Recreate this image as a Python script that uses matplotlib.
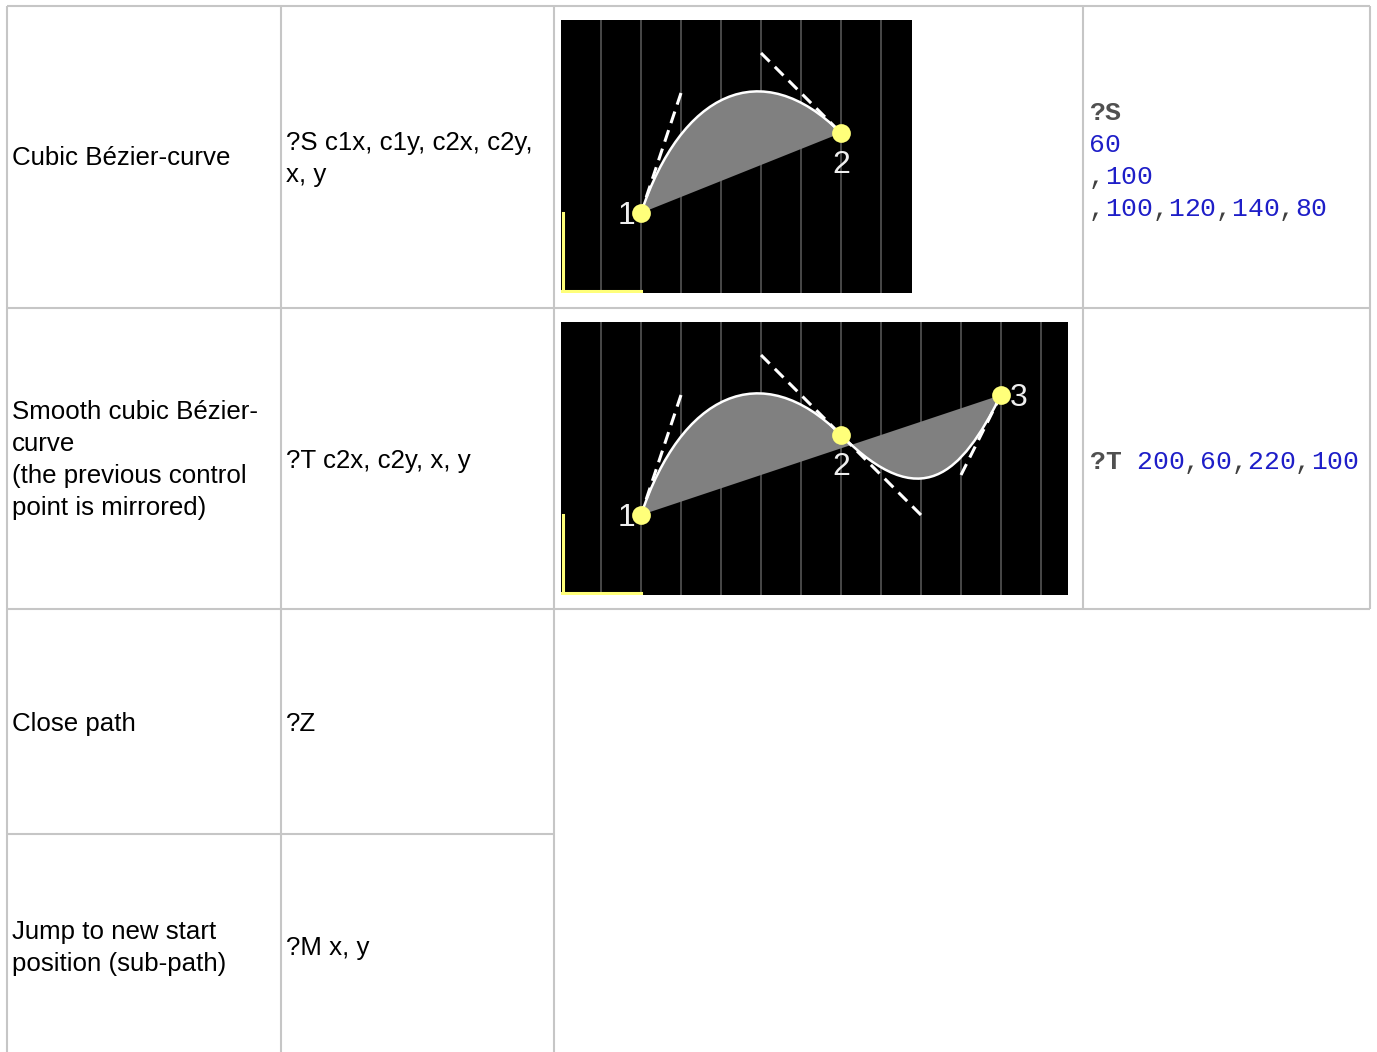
import matplotlib
matplotlib.use('Agg')
import matplotlib.pyplot as plt
from matplotlib.path import Path
from matplotlib.patches import PathPatch

W, H = 1377, 1052

# Table content
row_labels = [
    ["Cubic Bézier-curve"],
    ["Smooth cubic Bézier-", "curve", "(the previous control", "point is mirrored)"],
    ["Close path"],
    ["Jump to new start", "position (sub-path)"],
]
row_syntax = [
    ["?S c1x, c1y, c2x, c2y,", "x, y"],
    ["?T c2x, c2y, x, y"],
    ["?Z"],
    ["?M x, y"],
]

# Example path values (same units as the code column)
start_pt = (40, 40)
s_args = [60, 100, 100, 120, 140, 80]   # c1x, c1y, c2x, c2y, x, y
t_args = [200, 60, 220, 100]            # c2x, c2y, x, y
grid_step = 20

# Code column text, split into (text, kind) runs per line
s_code_lines = [
    [("?S", "cmd")],
    [("60", "num")],
    [(",", "sep"), ("100", "num")],
    [(",", "sep"), ("100", "num"), (",", "sep"), ("120", "num"), (",", "sep"),
     ("140", "num"), (",", "sep"), ("80", "num")],
]
t_code_lines = [
    [("?T", "cmd"), (" ", "sep"), ("200", "num"), (",", "sep"), ("60", "num"),
     (",", "sep"), ("220", "num"), (",", "sep"), ("100", "num")],
]

BORDER = '#c6c6c6'
YELLOW = '#ffff7a'
code_style = {
    "cmd": dict(color='#505050', weight='bold'),
    "num": dict(color='#1e1ec8', weight='normal'),
    "sep": dict(color='#404040', weight='normal'),
}

fig = plt.figure(figsize=(W / 100, H / 100), dpi=100)
fig.patch.set_facecolor('white')

# background axes in pixel coordinates for the table
bg = fig.add_axes([0, 0, 1, 1])
bg.set_xlim(0, W)
bg.set_ylim(H, 0)
bg.axis('off')

hlines = [(6, 7, 1370), (308, 7, 1370), (609, 7, 1370), (834, 7, 554)]
vlines = [(7, 6, H), (281, 6, H), (554, 6, H), (1083, 6, 609), (1370, 6, 609)]
for y, x0, x1 in hlines:
    bg.plot([x0, x1], [y, y], color=BORDER, lw=1.5, solid_capstyle='butt')
for x, y0, y1 in vlines:
    bg.plot([x, x], [y0, y1], color=BORDER, lw=1.5, solid_capstyle='butt')

sans = 'Liberation Sans'
fs = 18.6
line_h = 32
label_centers = [158, 460, 724, 948]
syntax_centers = [159, 461, 724, 948]
for lines, yc in zip(row_labels, label_centers):
    y0 = yc - (len(lines) - 1) * line_h / 2
    for i, t in enumerate(lines):
        bg.text(12, y0 + i * line_h, t, family=sans, fontsize=fs,
                ha='left', va='center', color='black')
for lines, yc in zip(row_syntax, syntax_centers):
    y0 = yc - (len(lines) - 1) * line_h / 2
    for i, t in enumerate(lines):
        bg.text(286, y0 + i * line_h, t, family=sans, fontsize=fs,
                ha='left', va='center', color='black')

# monospaced code, one character cell at a time
mono_fs = 19
char_w = 0.6 * mono_fs * 100 / 72


def draw_code(lines, x0, y0):
    for li, runs in enumerate(lines):
        col = 0
        for text, kind in runs:
            for ch in text:
                bg.text(x0 + col * char_w, y0 + li * line_h, ch,
                        family='Liberation Mono', fontsize=mono_fs,
                        ha='left', va='center', **code_style[kind])
                col += 1


draw_code(s_code_lines, 1089, 113)
draw_code(t_code_lines, 1089, 462)


def bezier_panel(rect_px, segments, labels):
    x, y, w, h = rect_px
    ax = fig.add_axes([x / W, 1 - (y + h) / H, w / W, h / H])
    ax.set_facecolor('black')
    ax.set_xlim(0, w / 2)
    ax.set_ylim(0, h / 2)
    ax.set_xticks([])
    ax.set_yticks([])
    for sp in ax.spines.values():
        sp.set_visible(False)

    # vertical grid lines
    gx = grid_step
    while gx < w / 2:
        ax.plot([gx, gx], [0, h / 2], color='#5c5c5c', lw=1.1, zorder=1)
        gx += grid_step

    # small yellow axes marker at origin
    ax.plot([1, 1], [0, 40], color=YELLOW, lw=2.2, zorder=2)
    ax.plot([0, 40], [1, 1], color=YELLOW, lw=2.2, zorder=2)

    verts = [start_pt]
    codes = [Path.MOVETO]
    anchors = [start_pt]
    handles = []
    prev = start_pt
    for c1, c2, end in segments:
        verts += [c1, c2, end]
        codes += [Path.CURVE4] * 3
        handles.append((prev, c1))
        handles.append((end, c2))
        anchors.append(end)
        prev = end

    fill_path = Path(verts + [start_pt], codes + [Path.CLOSEPOLY])
    ax.add_patch(PathPatch(fill_path, facecolor='#808080', edgecolor='none', zorder=3))

    for a, c in handles:
        ax.plot([c[0], a[0]], [c[1], a[1]], color='white', lw=2.2,
                linestyle=(0, (4, 2.4)), zorder=4)

    ax.add_patch(PathPatch(Path(verts, codes), fill=False, edgecolor='white',
                           lw=1.8, zorder=5))

    ax.plot([p[0] for p in anchors], [p[1] for p in anchors], 'o',
            color=YELLOW, markersize=13.5, markeredgewidth=0, zorder=6)

    offsets = [(-7.5, -1.5), (0, -16), (9, -1.5)]
    for p, lab, off in zip(anchors, labels, offsets):
        ax.text(p[0] + off[0], p[1] + off[1], lab, family=sans, fontsize=23,
                color='#eeeeee', ha='center', va='center', zorder=7)
    return ax


s_c1 = (s_args[0], s_args[1])
s_c2 = (s_args[2], s_args[3])
s_end = (s_args[4], s_args[5])
seg_s = (s_c1, s_c2, s_end)

# smooth curve: first control point is the previous one mirrored at the end point
t_c1 = (2 * s_end[0] - s_c2[0], 2 * s_end[1] - s_c2[1])
seg_t = (t_c1, (t_args[0], t_args[1]), (t_args[2], t_args[3]))

bezier_panel((561, 20, 351, 273), [seg_s], ["1", "2"])
bezier_panel((561, 322, 507, 273), [seg_s, seg_t], ["1", "2", "3"])

fig.savefig('out.png', dpi=100, facecolor='white')
